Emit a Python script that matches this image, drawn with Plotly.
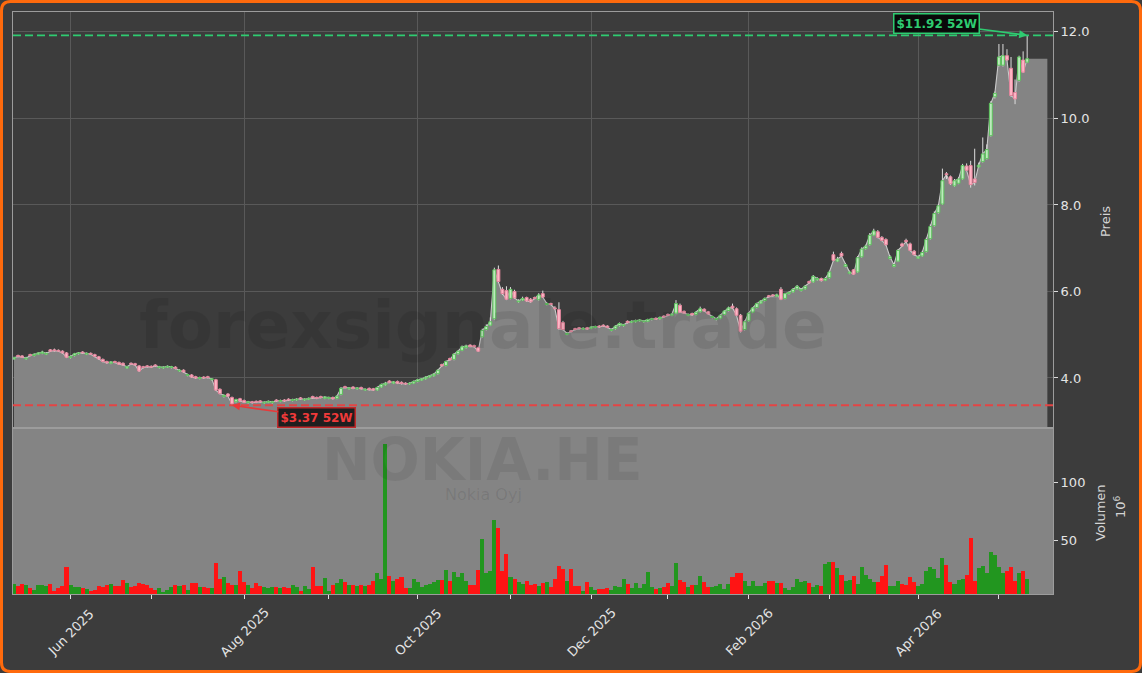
import pandas as pd
import plotly.graph_objects as go

# ---------------- data ----------------
start_date = "2025-05-12"
holidays = ["2025-05-29", "2025-06-20", "2025-12-24", "2025-12-25", "2025-12-26",
            "2025-12-31", "2026-01-01", "2026-01-06", "2026-04-03", "2026-04-06",
            "2026-05-01"]

opens = [4.44,4.52,4.51,4.44,4.54,4.52,4.55,4.57,4.55,4.65,
 4.65,4.64,4.62,4.58,4.47,4.52,4.56,4.60,4.55,4.57,
 4.54,4.49,4.43,4.38,4.34,4.38,4.36,4.34,4.23,4.34,
 4.33,4.28,4.26,4.28,4.27,4.30,4.24,4.23,4.25,4.24,
 4.25,4.16,4.18,4.06,4.07,4.03,3.99,4.02,4.03,3.96,
 3.96,3.74,3.57,3.63,3.55,3.45,3.52,3.48,3.43,3.45,
 3.46,3.47,3.42,3.44,3.43,3.49,3.46,3.49,3.51,3.48,
 3.49,3.54,3.49,3.51,3.57,3.55,3.57,3.53,3.53,3.55,
 3.53,3.62,3.80,3.75,3.79,3.75,3.78,3.72,3.76,3.75,
 3.72,3.79,3.84,3.93,3.88,3.92,3.90,3.88,3.86,3.88,
 3.92,3.95,3.98,4.02,4.05,4.10,4.31,4.29,4.45,4.43,
 4.56,4.64,4.70,4.76,4.75,4.70,4.95,5.12,5.22,5.37,
 6.51,6.05,6.02,5.84,6.00,5.76,5.80,5.86,5.82,5.86,
 5.81,5.95,5.70,5.72,5.62,5.58,5.28,5.01,5.09,5.14,
 5.16,5.13,5.16,5.15,5.17,5.20,5.22,5.20,5.10,5.14,
 5.21,5.21,5.31,5.29,5.30,5.32,5.30,5.31,5.35,5.38,
 5.37,5.43,5.47,5.45,5.50,5.68,5.54,5.45,5.49,5.47,
 5.53,5.59,5.53,5.40,5.35,5.38,5.47,5.56,5.66,5.60,
 5.45,5.12,5.32,5.52,5.63,5.73,5.79,5.90,5.92,5.89,
 6.05,5.84,5.95,5.99,6.06,6.02,6.06,6.23,6.22,6.27,
 6.30,6.26,6.32,6.85,6.70,6.88,6.58,6.42,6.50,6.45,
 6.80,6.99,7.08,7.30,7.38,7.25,7.20,6.76,6.58,6.70,
 7.10,7.18,7.10,6.93,6.77,6.82,6.92,7.22,7.52,7.82,
 8.02,8.72,8.65,8.44,8.50,8.60,8.90,8.91,8.60,8.88,
 9.00,9.07,9.60,10.50,11.23,11.23,11.45,11.16,10.60,10.88,
 11.35,11.30]

highs = [4.49,4.54,4.53,4.49,4.56,4.57,4.60,4.63,4.60,4.67,
 4.68,4.66,4.64,4.60,4.52,4.58,4.60,4.62,4.59,4.59,
 4.56,4.51,4.45,4.40,4.39,4.40,4.38,4.36,4.28,4.36,
 4.35,4.30,4.28,4.30,4.29,4.32,4.28,4.27,4.29,4.28,
 4.27,4.20,4.20,4.10,4.09,4.05,4.03,4.04,4.05,4.00,
 3.98,3.76,3.62,3.65,3.57,3.52,3.54,3.50,3.47,3.47,
 3.48,3.49,3.46,3.48,3.47,3.51,3.50,3.51,3.53,3.52,
 3.53,3.56,3.53,3.55,3.59,3.57,3.59,3.58,3.57,3.57,
 3.60,3.79,3.82,3.79,3.81,3.79,3.80,3.76,3.78,3.77,
 3.80,3.87,3.91,3.95,3.93,3.94,3.92,3.90,3.90,3.94,
 3.98,4.00,4.04,4.07,4.11,4.20,4.33,4.40,4.47,4.57,
 4.64,4.75,4.77,4.78,4.77,4.72,5.14,5.24,5.40,6.55,
 6.60,6.10,6.12,6.10,6.04,5.82,5.88,5.88,5.85,5.88,
 5.96,6.02,5.75,5.74,5.66,5.75,5.32,5.06,5.11,5.16,
 5.18,5.17,5.18,5.20,5.21,5.22,5.24,5.22,5.14,5.22,
 5.28,5.25,5.33,5.33,5.35,5.36,5.34,5.37,5.39,5.40,
 5.42,5.45,5.49,5.50,5.80,5.72,5.56,5.49,5.51,5.54,
 5.65,5.61,5.55,5.44,5.39,5.47,5.57,5.65,5.72,5.63,
 5.48,5.33,5.52,5.64,5.74,5.80,5.86,5.92,5.94,5.95,
 6.10,5.97,6.00,6.08,6.15,6.08,6.15,6.25,6.38,6.33,
 6.32,6.33,6.48,6.92,6.80,6.92,6.65,6.48,6.52,6.82,
 7.02,7.08,7.35,7.45,7.42,7.28,7.23,6.84,6.66,6.98,
 7.13,7.22,7.13,6.96,6.83,6.94,7.24,7.55,7.85,8.02,
 8.84,8.76,8.68,8.60,8.64,8.95,8.96,9.02,9.30,8.98,
 9.56,9.40,10.40,10.62,11.72,11.72,11.60,11.42,10.90,11.45,
 11.55,11.92]

lows = [4.42,4.48,4.46,4.42,4.50,4.50,4.53,4.55,4.53,4.60,
 4.61,4.60,4.56,4.46,4.45,4.50,4.54,4.56,4.53,4.53,
 4.48,4.42,4.36,4.33,4.32,4.34,4.30,4.28,4.21,4.30,
 4.28,4.14,4.22,4.24,4.23,4.26,4.22,4.21,4.23,4.22,
 4.20,4.14,4.12,4.04,4.00,3.98,3.97,3.98,3.99,3.94,
 3.70,3.62,3.55,3.56,3.37,3.43,3.45,3.42,3.41,3.41,
 3.42,3.43,3.40,3.42,3.41,3.45,3.44,3.45,3.47,3.46,
 3.47,3.50,3.47,3.49,3.52,3.51,3.53,3.51,3.51,3.50,
 3.51,3.60,3.76,3.73,3.74,3.73,3.73,3.70,3.71,3.70,
 3.70,3.77,3.82,3.88,3.86,3.86,3.85,3.84,3.84,3.86,
 3.90,3.93,3.96,4.00,4.03,4.08,4.26,4.27,4.40,4.41,
 4.54,4.62,4.68,4.71,4.70,4.60,4.93,5.10,5.20,5.35,
 6.20,5.92,5.80,5.82,5.83,5.74,5.78,5.76,5.74,5.82,
 5.79,5.85,5.68,5.68,5.58,5.12,5.10,4.99,5.05,5.10,
 5.12,5.11,5.11,5.13,5.15,5.16,5.18,5.15,5.08,5.12,
 5.19,5.19,5.26,5.27,5.28,5.30,5.28,5.29,5.33,5.34,
 5.35,5.39,5.43,5.43,5.48,5.50,5.48,5.43,5.44,5.45,
 5.51,5.53,5.46,5.38,5.33,5.36,5.45,5.54,5.60,5.43,
 5.05,5.10,5.30,5.50,5.61,5.71,5.77,5.86,5.88,5.87,
 5.80,5.82,5.93,5.97,6.04,6.00,6.04,6.18,6.20,6.25,
 6.23,6.24,6.30,6.70,6.68,6.80,6.56,6.40,6.38,6.43,
 6.78,6.97,7.06,7.28,7.23,7.16,7.06,6.74,6.56,6.68,
 7.03,7.13,6.93,6.83,6.75,6.80,6.90,7.20,7.50,7.80,
 8.00,8.60,8.46,8.42,8.48,8.58,8.78,8.40,8.45,8.86,
 8.98,9.05,9.58,10.46,11.20,11.20,11.33,10.50,10.33,10.85,
 11.05,11.28]

closes = [4.47,4.50,4.48,4.46,4.52,4.55,4.58,4.60,4.57,4.62,
 4.63,4.62,4.58,4.48,4.50,4.56,4.58,4.58,4.57,4.55,
 4.50,4.44,4.38,4.35,4.37,4.36,4.32,4.30,4.26,4.32,
 4.30,4.16,4.24,4.26,4.25,4.28,4.26,4.25,4.27,4.26,
 4.22,4.18,4.14,4.08,4.02,4.00,4.01,4.00,4.01,3.98,
 3.72,3.64,3.60,3.58,3.40,3.50,3.47,3.44,3.45,3.43,
 3.44,3.45,3.44,3.46,3.45,3.47,3.48,3.47,3.49,3.50,
 3.51,3.52,3.51,3.53,3.54,3.53,3.55,3.56,3.55,3.52,
 3.58,3.76,3.78,3.77,3.76,3.77,3.75,3.74,3.73,3.72,
 3.78,3.85,3.88,3.90,3.91,3.88,3.87,3.86,3.88,3.92,
 3.96,3.98,4.02,4.05,4.09,4.18,4.28,4.38,4.42,4.55,
 4.62,4.72,4.74,4.73,4.72,4.62,5.10,5.19,5.30,6.50,
 6.23,5.95,5.82,6.05,5.85,5.78,5.84,5.78,5.76,5.84,
 5.92,5.87,5.72,5.70,5.60,5.14,5.12,5.03,5.07,5.12,
 5.14,5.15,5.13,5.18,5.19,5.18,5.20,5.17,5.12,5.20,
 5.26,5.23,5.28,5.31,5.33,5.34,5.32,5.35,5.37,5.36,
 5.40,5.41,5.45,5.48,5.72,5.52,5.50,5.47,5.46,5.52,
 5.60,5.55,5.48,5.42,5.37,5.45,5.55,5.62,5.62,5.45,
 5.08,5.30,5.50,5.62,5.72,5.78,5.84,5.88,5.90,5.92,
 5.82,5.95,5.98,6.05,6.12,6.05,6.12,6.20,6.35,6.30,
 6.25,6.30,6.45,6.72,6.75,6.82,6.62,6.45,6.40,6.78,
 6.98,7.05,7.30,7.40,7.25,7.18,7.08,6.80,6.62,6.95,
 7.05,7.15,6.95,6.85,6.80,6.90,7.20,7.50,7.80,7.98,
 8.56,8.70,8.49,8.56,8.60,8.91,8.80,8.47,8.52,8.92,
 9.18,9.28,10.35,10.58,11.42,11.45,11.35,10.53,10.45,11.42,
 11.07,11.38]

volumes = [12,10,12,11,8.6,7,11,11,10.6,12,
 6.3,8.9,10.6,27,11,9.7,9.7,8.3,7.4,6,
 7,10.3,9.7,11,12,10.6,10.6,15.3,13.1,9.1,
 10.6,13,12.5,11,8.3,7,8.3,5.4,7,9.7,
 11,10.6,11,7,13,13,9.7,9.1,8.9,8.3,
 30,16,18.4,13,11,11,23.6,14,11,8.3,
 12.9,10.6,9.7,8.9,9.7,9.1,8.9,9.1,8.3,11,
 9.1,6.3,10.6,7.7,27,10.6,10.6,17.5,6.3,11,
 13,16,14,11,11,10.6,11,10.6,11,14.6,
 21.9,16,133,19.4,14.8,16.8,17.8,8.3,8.3,16,
 14,9.7,11,12.5,13.4,15.3,15.3,24.1,14.8,22.7,
 18.4,21.9,14.8,11,11.5,24,51,21.9,23.6,67,
 60.3,23.3,37.9,18.4,16,13.4,12.5,14.8,11,12.5,
 10.6,13.1,13.4,9.7,16,28,25,14.8,25,10.6,
 10.6,6.3,13.7,9.7,7,7.7,7.7,8.3,7,10.6,
 9.7,16,12,8.3,13,8.9,12,22.6,9.7,7.7,
 8.9,9.7,13,10.6,29.9,15.3,14,9.7,11,11,
 18.7,14,9.7,9.7,10.6,12,7.4,12,18,21.9,
 21.9,14.8,10.6,14.8,10.6,10.6,12.7,14.5,14.5,12.7,
 12.9,8.3,7,9.7,16.8,13.8,14.3,13.2,9.7,11,
 10.3,29.6,31,31,26,19.7,14.3,15.3,18.7,11.8,
 26.5,20,16.5,13.8,13.8,18.7,28.5,10.6,10.6,14.3,
 11.8,11.3,18,13.8,10.6,12.4,23.3,26.7,25.3,17.2,
 34.6,28.5,13.8,12.4,15.6,16.4,19.5,51.5,14.4,26.1,
 27.5,21.9,39.8,37.3,26.7,21.9,23.3,26.7,15,21.9,
 23.3,16.5]

symbol = "NOKIA.HE"
company = "Nokia Oyj"
watermark = "forexsignale.trade"
price_title = "Preis"
volume_title = "Volumen"

# ---------------- derived ----------------
hol = set(pd.to_datetime(holidays))
dates = [d for d in pd.bdate_range(start_date, "2026-07-31") if d not in hol][:len(closes)]
idx = list(range(len(closes)))
month_ticks = [i for i in idx[1:] if dates[i].month != dates[i - 1].month]
major_ticks = [i for i in month_ticks if dates[i].month % 2 == 0]
minor_ticks = [i for i in month_ticks if dates[i].month % 2 == 1]

lo_i = min(idx, key=lambda i: lows[i])
hi_i = max(idx, key=lambda i: highs[i])
lo_v, hi_v = lows[lo_i], highs[hi_i]

GREEN_V = "#22961f"
RED_V = "#ff1414"
up = [closes[i] >= opens[i] for i in idx]
vol_colors = [GREEN_V if up[i] else RED_V for i in idx]

# ---------------- geometry ----------------
W, H = 1142, 673
ML, MR, MT, MB = 13, 89, 12, 79
PW, PH = W - ML - MR, H - MT - MB
SPLIT = 166 / PH
BG = "#3c3c3c"
FILLGRAY = "#848484"
FONT = "DejaVu Sans"
HW = 0.36  # half body width in bar units

def px(xp):
    return (xp - ML) / PW

def py(yp):
    return (MT + PH - yp) / PH

XR = [-0.25, 257.4]

fig = go.Figure()

# price area fill (extends a little past last bar)
fig.add_trace(go.Scatter(x=idx + [idx[-1] + 5], y=closes + [closes[-1]],
                         mode="lines", line=dict(width=0), fill="tozeroy",
                         fillcolor=FILLGRAY, hoverinfo="skip", showlegend=False,
                         xaxis="x", yaxis="y"))
fig.add_trace(go.Scatter(x=idx, y=closes, mode="lines",
                         line=dict(color="#cacaca", width=1.1),
                         hoverinfo="skip", showlegend=False, xaxis="x", yaxis="y"))

# candles drawn as scatter paths so they sit above the area fill
wx, wy = [], []
for i in idx:
    wx += [i, i, None]
    wy += [lows[i], highs[i], None]
fig.add_trace(go.Scatter(x=wx, y=wy, mode="lines", line=dict(color="#dedede", width=1),
                         hoverinfo="skip", showlegend=False, xaxis="x", yaxis="y"))
for want_up, fillc, linec in [(True, "#bdeabd", "#5cc25c"), (False, "#ffb6c6", "#e3859c")]:
    bx, by = [], []
    for i in idx:
        if up[i] != want_up:
            continue
        o, c = opens[i], closes[i]
        bx += [i - HW, i + HW, i + HW, i - HW, i - HW, None]
        by += [o, o, c, c, o, None]
    fig.add_trace(go.Scatter(x=bx, y=by, mode="lines", fill="toself", fillcolor=fillc,
                             line=dict(color=linec, width=1), hoverinfo="skip",
                             showlegend=False, xaxis="x", yaxis="y"))

fig.add_trace(go.Bar(x=idx, y=volumes, marker=dict(color=vol_colors, line=dict(width=0)),
                     width=1.0, showlegend=False, xaxis="x2", yaxis="y2"))

shapes = []
shapes.append(dict(type="rect", xref="x2 domain", yref="y2 domain", x0=0, x1=1, y0=0, y1=1,
                   fillcolor=FILLGRAY, line=dict(width=0), layer="below"))
shapes.append(dict(type="line", xref="x domain", yref="y", x0=0, x1=1, y0=hi_v, y1=hi_v,
                   line=dict(color="#2ecc71", width=1.8, dash="8px,4px")))
shapes.append(dict(type="line", xref="x domain", yref="y", x0=0, x1=1, y0=lo_v, y1=lo_v,
                   line=dict(color="#e44444", width=1.8, dash="8px,4px")))

# orange rounded border around the whole figure
x0p, x1p, y0p, y1p, r = 1.5, W - 1.5, 1.5, H - 1.5, 9
rx, ry = r / PW, r / PH
X0, X1, Y0, Y1 = px(x0p), px(x1p), py(y1p), py(y0p)
path = (f"M {X0+rx},{Y1} L {X1-rx},{Y1} Q {X1},{Y1} {X1},{Y1-ry} "
        f"L {X1},{Y0+ry} Q {X1},{Y0} {X1-rx},{Y0} L {X0+rx},{Y0} "
        f"Q {X0},{Y0} {X0},{Y0+ry} L {X0},{Y1-ry} Q {X0},{Y1} {X0+rx},{Y1} Z")
shapes.append(dict(type="path", xref="paper", yref="paper", path=path,
                   line=dict(color="#ff6a0d", width=3), fillcolor="rgba(0,0,0,0)"))

C = dict(xanchor="center", yanchor="middle", showarrow=False)
ann = []
ann.append(dict(text=f"<b>{watermark}</b>", xref="paper", yref="paper", x=px(483), y=py(325),
                font=dict(family=FONT, size=66, color="rgba(0,0,0,0.085)"), **C))
ann.append(dict(text=f"<b>{symbol}</b>", xref="paper", yref="paper", x=px(482), y=py(460),
                font=dict(family=FONT, size=58, color="rgba(0,0,0,0.075)"), **C))
ann.append(dict(text=company, xref="paper", yref="paper", x=px(483), y=py(495),
                font=dict(family=FONT, size=16, color="rgba(0,0,0,0.09)"), **C))
ann.append(dict(text=price_title, xref="paper", yref="paper", x=px(1105), y=py(222),
                textangle=-90, font=dict(family=FONT, size=13, color="#d4d4d4"), **C))
ann.append(dict(text=volume_title, xref="paper", yref="paper", x=px(1100), y=py(513),
                textangle=-90, font=dict(family=FONT, size=13, color="#d4d4d4"), **C))
ann.append(dict(text="10<sup>6</sup>", xref="paper", yref="paper", x=px(1120), y=py(507),
                textangle=-90, font=dict(family=FONT, size=13, color="#d4d4d4"), **C))
for i in major_ticks:
    ann.append(dict(text=dates[i].strftime("%b %Y"), xref="x2", yref="paper", x=i, y=py(632),
                    textangle=-45, font=dict(family=FONT, size=13, color="#e4e4e4"), **C))
ann.append(dict(text=f"<b>${hi_v:.2f} 52W</b>", xref="x", yref="y", x=hi_i, y=hi_v,
                ax=-91, ay=-12, showarrow=True, arrowhead=2, arrowsize=1, arrowwidth=1.6,
                arrowcolor="#2ecc71", bgcolor="rgba(0,0,0,0.85)", bordercolor="#2ecc71",
                borderwidth=1.5, borderpad=2, font=dict(family=FONT, size=12, color="#2ecc71")))
ann.append(dict(text=f"<b>${lo_v:.2f} 52W</b>", xref="x", yref="y", x=lo_i, y=lo_v,
                ax=85, ay=12, showarrow=True, arrowhead=2, arrowsize=1, arrowwidth=1.6,
                arrowcolor="#e8393a", bgcolor="rgba(20,20,20,0.9)", bordercolor="#c0282a",
                borderwidth=1.5, borderpad=2, font=dict(family=FONT, size=12, color="#f03a3a")))

axis_common = dict(showline=True, mirror=True, linecolor="#9c9c9c", linewidth=1, zeroline=False)
fig.update_layout(
    width=W, height=H, margin=dict(l=ML, r=MR, t=MT, b=MB),
    paper_bgcolor=BG, plot_bgcolor=BG, hovermode=False, showlegend=False,
    font=dict(family=FONT, size=13, color="#e4e4e4"),
    bargap=0,
    xaxis=dict(domain=[0, 1], anchor="y", range=XR, tickmode="array", tickvals=major_ticks,
               showticklabels=False, ticks="", showgrid=True, gridcolor="#595959", gridwidth=1,
               **axis_common),
    yaxis=dict(domain=[SPLIT, 1], anchor="x", side="right", range=[2.844, 12.46],
               tick0=0, dtick=2, tickformat=".1f", ticks="outside", ticklen=4, tickcolor="#dcdcdc",
               showgrid=True, gridcolor="#595959", gridwidth=1,
               tickfont=dict(family=FONT, size=13, color="#e4e4e4"), **axis_common),
    xaxis2=dict(domain=[0, 1], anchor="y2", range=XR, matches="x", tickmode="array",
                tickvals=major_ticks, showticklabels=False, ticks="outside", ticklen=4,
                tickcolor="#e0e0e0", showgrid=False,
                minor=dict(tickmode="array", tickvals=minor_ticks, ticks="outside", ticklen=4,
                           tickcolor="#e0e0e0", showgrid=False),
                **axis_common),
    yaxis2=dict(domain=[0, SPLIT], anchor="x2", side="right", range=[3.45, 146.6],
                tickvals=[50, 100], ticks="outside", ticklen=4, tickcolor="#dcdcdc",
                showgrid=False, tickfont=dict(family=FONT, size=13, color="#e4e4e4"),
                **axis_common),
    shapes=shapes, annotations=ann,
)

fig.write_html("out.html", config={"displayModeBar": False},
               post_script="document.body.style.margin='0';document.body.style.overflow='hidden';")
